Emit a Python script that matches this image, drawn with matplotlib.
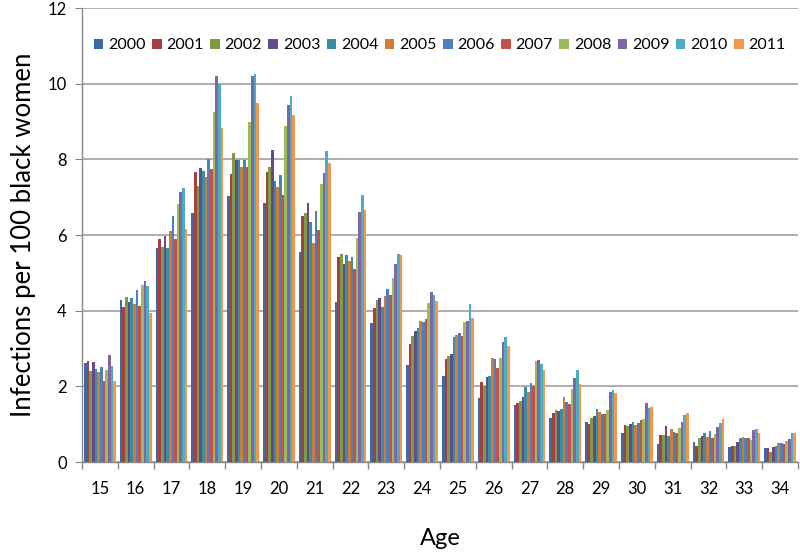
import matplotlib.pyplot as plt
import numpy as np

ages = [str(a) for a in range(15, 35)]
years = ["2000", "2001", "2002", "2003", "2004", "2005",
         "2006", "2007", "2008", "2009", "2010", "2011"]
colors = ["#3D69A8", "#A6403D", "#7E9B44", "#654B8A", "#378FA6", "#D07C34",
          "#4E80C0", "#C44F4C", "#9BBB59", "#8166A6", "#4BACC6", "#F79646"]

# rows = age 15..34, columns = year 2000..2011
rates = np.array([
    [2.62, 2.68, 2.41, 2.64, 2.46, 2.39, 2.51, 2.14, 2.44, 2.83, 2.55, 2.14],
    [4.27, 4.09, 4.36, 4.22, 4.33, 4.18, 4.55, 4.13, 4.68, 4.79, 4.66, 3.95],
    [5.65, 5.89, 5.68, 5.97, 5.65, 6.11, 6.49, 5.89, 6.83, 7.13, 7.24, 6.15],
    [6.58, 7.66, 7.30, 7.77, 7.68, 7.53, 8.01, 7.75, 9.24, 10.21, 9.99, 8.84],
    [7.02, 7.62, 8.17, 7.97, 7.99, 7.81, 7.97, 7.79, 8.99, 10.21, 10.26, 9.48],
    [6.84, 7.67, 7.80, 8.26, 7.42, 7.28, 7.59, 7.06, 8.89, 9.43, 9.67, 9.17],
    [5.54, 6.51, 6.58, 6.84, 6.34, 5.80, 6.64, 6.14, 7.34, 7.65, 8.21, 7.90],
    [4.22, 5.41, 5.50, 5.24, 5.46, 5.32, 5.41, 5.10, 5.92, 6.61, 7.06, 6.66],
    [3.67, 4.07, 4.29, 4.33, 4.09, 4.39, 4.57, 4.42, 4.86, 5.24, 5.50, 5.48],
    [2.57, 3.12, 3.34, 3.45, 3.54, 3.73, 3.71, 3.77, 4.21, 4.49, 4.42, 4.26],
    [2.28, 2.72, 2.80, 2.86, 3.30, 3.36, 3.40, 3.34, 3.70, 3.73, 4.18, 3.80],
    [1.68, 2.11, 2.01, 2.26, 2.28, 2.74, 2.72, 2.48, 2.74, 3.16, 3.30, 3.07],
    [1.51, 1.55, 1.61, 1.71, 1.97, 1.84, 2.08, 2.01, 2.68, 2.70, 2.59, 2.43],
    [1.16, 1.29, 1.38, 1.35, 1.39, 1.71, 1.58, 1.53, 1.93, 2.21, 2.43, 2.06],
    [1.05, 1.00, 1.17, 1.22, 1.39, 1.31, 1.27, 1.27, 1.38, 1.84, 1.90, 1.83],
    [0.76, 0.98, 0.95, 1.00, 1.07, 0.98, 1.02, 1.11, 1.14, 1.57, 1.44, 1.46],
    [0.48, 0.71, 0.71, 0.95, 0.70, 0.86, 0.80, 0.76, 0.89, 1.07, 1.24, 1.29],
    [0.54, 0.43, 0.64, 0.70, 0.76, 0.67, 0.82, 0.63, 0.74, 0.93, 1.02, 1.14],
    [0.39, 0.42, 0.42, 0.54, 0.63, 0.65, 0.63, 0.63, 0.58, 0.85, 0.87, 0.78],
    [0.38, 0.38, 0.27, 0.40, 0.43, 0.49, 0.49, 0.47, 0.56, 0.61, 0.76, 0.76],
])

plt.rcParams["font.family"] = ["Lato", "DejaVu Sans"]

fig = plt.figure(figsize=(8, 5.52), dpi=100)
ax = fig.add_axes([0.1025, 0.163, 0.895, 0.8225])

x = np.arange(len(ages))
n = len(years)
width = 0.89 / n
for i, (yr, col) in enumerate(zip(years, colors)):
    ax.bar(x - 0.445 + width * (i + 0.5), rates[:, i], width=width,
           color=col, label=yr, zorder=3, linewidth=0)

ax.set_xlim(-0.5, len(ages) - 0.5)
ax.set_ylim(0, 12)
ax.set_yticks(range(0, 13, 2))
ax.set_xticks(x)
ax.set_xticklabels(ages)
ax.set_xticks(np.arange(-0.5, len(ages), 1), minor=True)
ax.tick_params(axis="x", which="major", length=0, pad=14, labelsize=12)
ax.tick_params(axis="x", which="minor", length=5, color="#888888", width=1)
ax.tick_params(axis="y", length=5, color="#888888", labelsize=12, pad=6)

ax.grid(axis="y", color="#A0A0A0", linewidth=1.2, zorder=0)
for s in ("top", "right"):
    ax.spines[s].set_visible(False)
for s in ("left", "bottom"):
    ax.spines[s].set_color("#888888")
    ax.spines[s].set_linewidth(1)

ax.set_ylabel("Infections per 100 black women", fontsize=18.5, labelpad=8)
ax.set_xlabel("Age", fontsize=17, labelpad=22)

leg = ax.legend(loc="upper left", bbox_to_anchor=(0.012, 0.94), ncol=n,
                frameon=False, fontsize=11.5, handlelength=0.6, handleheight=0.6,
                handletextpad=0.3, columnspacing=0.4, borderaxespad=0,
                borderpad=0.2)

fig.savefig("out.png", dpi=100)
